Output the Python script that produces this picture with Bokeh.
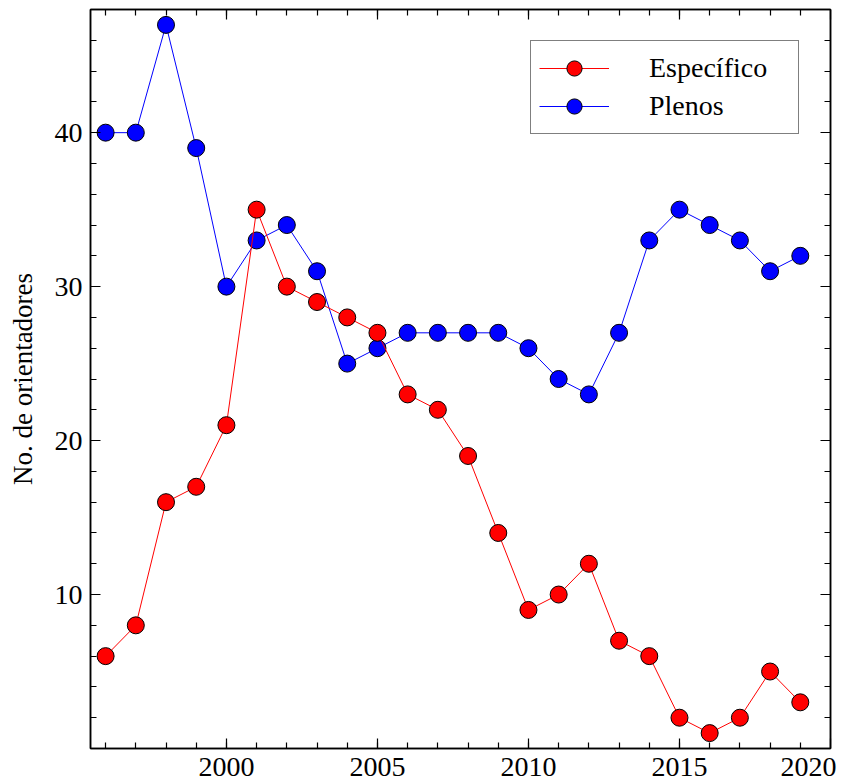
from bokeh.plotting import figure
from bokeh.models import (Range1d, LinearAxis, FixedTicker, Legend, LegendItem,
                          CustomJSTickFormatter)
from bokeh.embed import file_html
from bokeh.resources import INLINE

years = list(range(1996, 2020))
especifico = [6, 8, 16, 17, 21, 35, 30, 29, 28, 27, 23, 22, 19, 14, 9, 10, 12, 7, 6, 2, 1, 2, 5, 3]
plenos = [40, 40, 47, 39, 30, 33, 34, 31, 25, 26, 27, 27, 27, 27, 26, 24, 23, 27, 33, 35, 34, 33, 31, 32]
x_major = [2000, 2005, 2010, 2015, 2020]
x_minor = list(range(1996, 2020))
y_major = [10, 20, 30, 40]
y_minor = list(range(2, 48, 2))

FONT = "Liberation Serif"
FS = "28px"

p = figure(width=843, height=784, output_backend="svg", toolbar_location=None,
           x_range=Range1d(1995.5, 2020), y_range=Range1d(0, 48),
           min_border_left=90, min_border_right=13, min_border_top=9, min_border_bottom=36,
           x_axis_type=None, y_axis_type=None)
p.xgrid.visible = False
p.ygrid.visible = False
p.outline_line_color = "black"
p.outline_line_width = 1.5
p.background_fill_color = "white"
p.border_fill_color = "white"

xt = FixedTicker(ticks=x_major, minor_ticks=x_minor)
yt = FixedTicker(ticks=y_major, minor_ticks=y_minor)
empty = CustomJSTickFormatter(code="return ''")


def style(ax, labels=True):
    ax.major_tick_in = 10
    ax.major_tick_out = 0
    ax.minor_tick_in = 6
    ax.minor_tick_out = 0
    ax.axis_line_color = "black"
    ax.axis_line_width = 1.5
    ax.major_tick_line_color = "black"
    ax.minor_tick_line_color = "black"
    ax.major_tick_line_width = 1.2
    ax.minor_tick_line_width = 1.2
    ax.major_label_text_font = FONT
    ax.major_label_text_font_size = FS if labels else "1px"
    ax.major_label_text_color = "black"
    if not labels:
        ax.formatter = empty
        ax.major_label_standoff = 0


# the last tick label sits at the frame edge; pad it so it stays inside the canvas
xb = LinearAxis(ticker=xt, major_label_overrides={x_major[-1]: str(x_major[-1]) + "\u00a0"})
style(xb)
xb.major_label_standoff = 2
p.add_layout(xb, "below")

yl = LinearAxis(ticker=yt, axis_label="No. de orientadores")
style(yl)
yl.major_label_standoff = 8
yl.axis_label_text_font = FONT
yl.axis_label_text_font_size = "27px"
yl.axis_label_text_font_style = "normal"
yl.axis_label_text_color = "black"
yl.axis_label_standoff = 14
p.add_layout(yl, "left")

xa = LinearAxis(ticker=xt)
style(xa, labels=False)
p.add_layout(xa, "above")
yr = LinearAxis(ticker=yt)
style(yr, labels=False)
p.add_layout(yr, "right")

bl = p.line(years, plenos, line_color="#0000ff", line_width=1)
bc = p.scatter(years, plenos, size=17, fill_color="#0000ff", line_color="black", line_width=1)
rl = p.line(years, especifico, line_color="#ff0000", line_width=1)
rc = p.scatter(years, especifico, size=17, fill_color="#ff0000", line_color="black", line_width=1)

legend = Legend(items=[LegendItem(label="Específico", renderers=[rl, rc]),
                       LegendItem(label="Plenos", renderers=[bl, bc])],
                location="top_right", margin=31, padding=8, spacing=0,
                glyph_width=70, glyph_height=38, label_standoff=40, label_width=141,
                label_text_font=FONT, label_text_font_size=FS, label_text_color="black",
                border_line_color="black", border_line_width=1, background_fill_alpha=1)
p.add_layout(legend)

open("out.html", "w").write(file_html(p, INLINE))
